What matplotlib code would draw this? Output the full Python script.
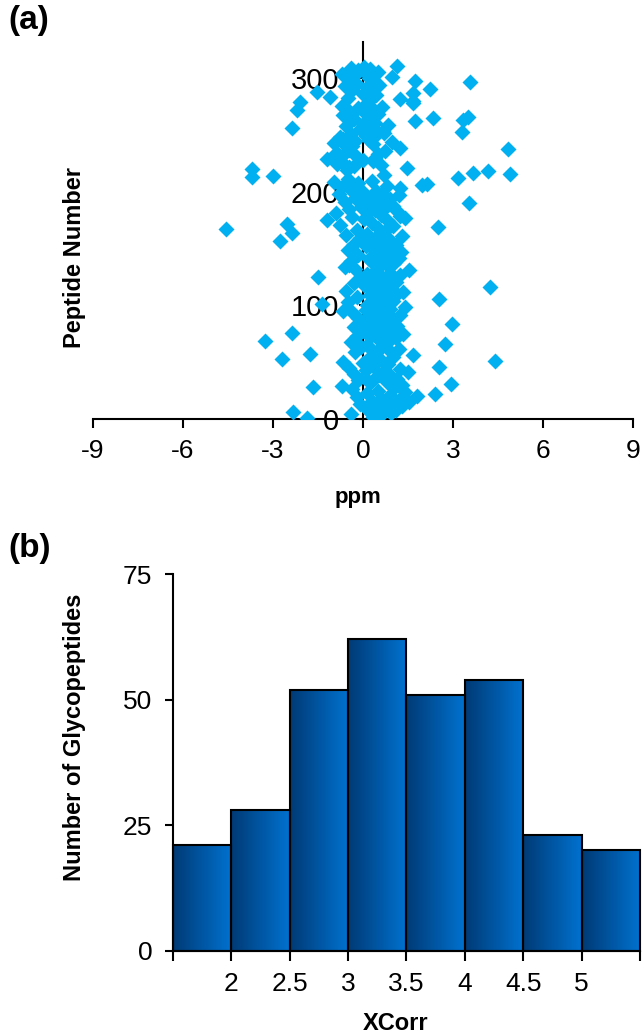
import numpy as np
import matplotlib.pyplot as plt
from matplotlib.colors import LinearSegmentedColormap

plt.rcParams['font.family'] = ['Liberation Sans', 'DejaVu Sans']
plt.rcParams['axes.unicode_minus'] = False

# (a) mass error (ppm) for each peptide, peptide number = position in list
ppm = [
    -1.85, 0.35, 0.57, -0.40, 0.95, -2.32, 0.20, 1.10, 0.12, 0.75,
    1.30, 0.45, -0.10, 0.85, 1.55, 0.30, 1.20, 0.60, -0.20, 1.79,
    0.90, 2.40, 0.15, 1.40, 0.50, -0.35, 1.05, -1.66, -0.71, 1.29,
    2.94, 0.25, 0.80, -0.15, 1.15, 0.40, 0.05, 0.95, 0.55, -0.30,
    1.50, 0.70, 0.10, 1.25, -0.45, 2.52, 0.35, 0.85, 0.00, -0.66,
    4.40, 0.60, -2.71, 0.20, 1.00, 1.67, -1.77, 0.45, -0.25, 0.90,
    0.30, 1.20, -0.05, 0.65, 0.15, 2.73, 0.80, -0.40, -3.27, 0.50,
    1.10, 0.25, -0.20, 0.70, 1.35, -2.38, 0.40, 0.05, 0.95, 0.60,
    -0.30, 1.15, 0.20, 2.96, 0.75, 0.00, 1.05, 0.45, -0.15, 0.85,
    0.30, 1.25, 0.55, -0.35, -0.66, 0.10, 0.90, 0.35, 1.40, 0.15,
    -1.38, 0.65, -0.50, 1.00, 0.40, 2.54, -0.20, 0.80, 0.25, 1.15,
    0.50, 1.35, -0.55, 0.70, 0.20, 4.23, 0.95, 0.05, 0.55, -0.30,
    1.10, 0.35, 0.75, -0.05, -1.50, 0.60, 1.25, 0.15, 0.90, 0.40,
    1.55, -0.25, 0.50, -0.60, 0.85, -0.45, 1.05, 0.30, -0.40, 0.70,
    0.20, 1.20, 0.45, -0.15, 0.95, -0.35, 1.27, 0.55, -0.50, 0.35,
    0.80, 0.10, 1.10, -0.30, 0.60, 0.25, -2.77, 0.90, -0.10, 0.45,
    1.30, -0.55, 0.15, -2.38, 0.70, -0.20, -4.57, 0.50, 2.51, 1.00,
    -0.75, -2.54, 0.30, 0.85, -1.21, 0.05, 1.40, -0.35, 1.23, 0.60,
    -0.90, 0.20, 1.15, 0.40, -0.45, 0.75, -0.05, 1.00, 0.25, 3.55,
    -0.60, 0.55, 0.10, 0.90, -0.25, 0.35, 1.20, -0.80, 0.65, 0.00,
    0.45, -0.40, 1.23, -0.70, 0.80, 1.96, 2.12, -0.15, -0.95, 0.30,
    -0.50, 3.18, -3.71, -3.01, 0.70, 4.90, 3.68, 4.18, -0.54, -3.71,
    1.46, -0.45, -0.30, 0.60, -0.85, -0.70, 0.35, 0.00, -1.21, 0.40,
    -0.20, -1.00, 0.50, -0.88, -0.55, 0.75, -0.45, 4.85, 1.23, -0.35,
    -0.60, 0.35, -0.95, 0.96, -0.25, 0.20, -0.65, -0.75, 0.10, 0.45,
    -0.40, 0.70, 3.29, 0.67, -0.10, -2.38, 0.30, -0.55, 0.85, 0.00,
    0.40, 1.73, 3.32, -0.30, 2.34, 3.51, 0.20, -0.65, 0.50, 0.05,
    -0.45, -2.21, 0.35, -0.15, 0.65, -0.70, 0.10, 1.67, -2.10, 1.68,
    0.25, 1.23, -0.50, -1.10, 0.45, 0.00, 1.67, -1.54, 0.30, -0.35,
    2.23, 0.15, -0.60, 0.55, -0.20, 0.40, 3.57, 1.73, -0.45, 0.20,
    0.96, -0.30, 0.35, -0.70, 0.10, 0.50, -0.15, 0.25, -0.40, 0.05, 1.12,
]
peptide = np.arange(1, len(ppm) + 1)
ppm_ticks = [-9, -6, -3, 0, 3, 6, 9]
peptide_ticks = [0, 100, 200, 300]

# (b) XCorr histogram
xcorr_edges = [1.5, 2, 2.5, 3, 3.5, 4, 4.5, 5, 5.5]
counts = [21, 28, 52, 62, 51, 54, 23, 20]
xcorr_labels = ['', '2', '2.5', '3', '3.5', '4', '4.5', '5', '']
count_ticks = [0, 25, 50, 75]

fig = plt.figure(figsize=(6.44, 10.35), dpi=100)

# ---- panel (a)
ax1 = fig.add_axes([0.1444, 0.5952, 0.8385, 0.3642])
ax1.plot(ppm, peptide, ls='none', marker='D', ms=8, color='#00b0f0',
         mec='none', zorder=2)
ax1.set_xlim(-9, 9)
ax1.set_ylim(0, 332)
ax1.spines['left'].set_position(('data', 0))
ax1.spines['bottom'].set_position(('data', 0))
for s in ['top', 'right']:
    ax1.spines[s].set_visible(False)
for s in ['left', 'bottom']:
    ax1.spines[s].set_linewidth(1.5)
    ax1.spines[s].set_zorder(1)
ax1.set_xticks(ppm_ticks)
ax1.set_yticks(peptide_ticks)
ax1.tick_params(axis='x', direction='out', length=6.5, width=1.5,
                labelsize=19, pad=8)
ax1.tick_params(axis='y', direction='out', length=3, width=1.5,
                labelsize=21, pad=14)

fig.text(75 / 644, 1 - 258 / 1035, 'Peptide Number', rotation=90,
         ha='center', va='center', fontsize=17, fontweight='bold')
fig.text(358 / 644, 1 - 498 / 1035, 'ppm', ha='center', va='center',
         fontsize=16, fontweight='bold')
fig.text(8 / 644, 1 - 20 / 1035, '(a)', ha='left', va='center',
         fontsize=24, fontweight='bold')

# ---- panel (b)
ax2 = fig.add_axes([0.2686, 0.0812, 0.7252, 0.3642])
widths = np.diff(xcorr_edges)
bars = ax2.bar(xcorr_edges[:-1], counts, width=widths, align='edge',
               facecolor='none', edgecolor='black', linewidth=1.5,
               zorder=3, clip_on=False)
cmap = LinearSegmentedColormap.from_list('bar', ['#003a75', '#0072d0'])
grad = np.linspace(0, 1, 256).reshape(1, -1)
for r in bars:
    ax2.imshow(grad, cmap=cmap, aspect='auto', zorder=2,
               extent=[r.get_x(), r.get_x() + r.get_width(), 0, r.get_height()])
ax2.set_xlim(1.5, 5.5)
ax2.set_ylim(0, 75)
for s in ['top', 'right']:
    ax2.spines[s].set_visible(False)
for s in ['left', 'bottom']:
    ax2.spines[s].set_linewidth(1.5)
ax2.set_xticks(xcorr_edges)
ax2.set_xticklabels(xcorr_labels)
ax2.set_yticks(count_ticks)
ax2.tick_params(axis='x', direction='out', length=7, width=1.5,
                labelsize=19, pad=8)
ax2.tick_params(axis='y', direction='out', length=6, width=1.5,
                labelsize=19, pad=9)

fig.text(75 / 644, 1 - 737 / 1035, 'Number of Glycopeptides', rotation=90,
         ha='center', va='center', fontsize=17, fontweight='bold')
fig.text(396 / 644, 1 - 1023 / 1035, 'XCorr', ha='center', va='center',
         fontsize=17, fontweight='bold')
fig.text(8 / 644, 1 - 548 / 1035, '(b)', ha='left', va='center',
         fontsize=24, fontweight='bold')

fig.savefig('out.png', dpi=100)
